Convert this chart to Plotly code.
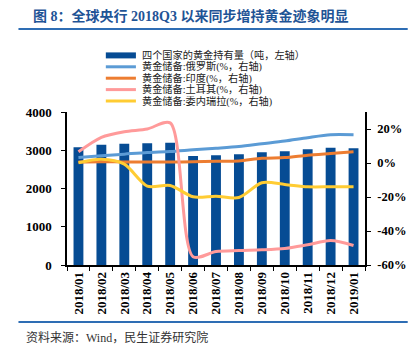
import plotly.graph_objects as go

months = ["2018/01", "2018/02", "2018/03", "2018/04", "2018/05", "2018/06", "2018/07",
          "2018/08", "2018/09", "2018/10", "2018/11", "2018/12", "2019/01"]
holdings = [3077, 3145, 3172, 3180, 3198, 2850, 2867, 2893, 2945, 2971, 3024, 3067, 3055]
russia = [3.2, 4.2, 5.2, 6.2, 6.8, 7.8, 8.7, 9.7, 11.3, 12.9, 14.9, 16.6, 16.6]
india = [0.6, 0.8, 0.6, 0.6, 0.6, 0.7, 1.0, 1.2, 2.8, 3.2, 4.6, 5.6, 6.6]
turkey = [6.6, 15.1, 18.4, 20.0, 23.6, -55.1, -52.1, -51.5, -51.1, -50.3, -48.1, -45.6, -48.5]
venezuela = [0.2, 2.2, -0.7, -13.6, -13.2, -19.9, -19.5, -20.3, -11.6, -12.6, -14.0, -14.0, -14.0]

names = ["四个国家的黄金持有量（吨，左轴）", "黄金储备:俄罗斯(%，右轴)", "黄金储备:印度(%，右轴)",
         "黄金储备:土耳其(%，右轴)", "黄金储备:委内瑞拉(%，右轴)"]
left_ticks = [0, 1000, 2000, 3000, 4000]
right_ticks = [-60, -40, -20, 0, 20]
right_labels = ["-60%", "-40%", "-20%", "0%", "20%"]

serif = "Liberation Serif"
cjk = "Liberation Serif, Noto Sans CJK SC"
bar_color = "#064C94"
colors = ["#5B9BD5", "#ED7D31", "#FF9A9A", "#FFCC33"]

# plot area in pixels (for placing decorations)
L, R, T, B = 67, 374, 112, 265
W, H = R - L, B - T


def px(xp):
    return (xp - L) / W


def py(yp):
    return (B - yp) / H


fig = go.Figure()
fig.add_trace(go.Bar(x=months, y=holdings, name=names[0], marker_color=bar_color,
                     marker_line_width=0))
line_series = [russia, india, turkey, venezuela]
for i, (s, c) in enumerate(zip(line_series, colors)):
    fig.add_trace(go.Scatter(x=months, y=s, name=names[i + 1], yaxis="y2", mode="lines",
                             line=dict(color=c, width=3, shape="spline", smoothing=0.8)))

fig.update_layout(
    width=418, height=353,
    margin=dict(l=L, r=418 - R, t=T, b=353 - B),
    paper_bgcolor="white", plot_bgcolor="white",
    bargap=0.57,
    showlegend=False,
    title=dict(text="图 8：全球央行 2018Q3 以来同步增持黄金迹象明显", xref="container", yref="container",
               x=33 / 418, y=1 - 16 / 353, xanchor="left", yanchor="middle",
               font=dict(family=cjk, size=14, color="#1F5496", weight="bold")),
    xaxis=dict(type="category", tickangle=-90, tickson="boundaries", ticks="outside",
               ticklen=4, tickcolor="black", showline=True, linecolor="black", linewidth=1.5,
               tickfont=dict(family=serif, size=13, color="black", weight="bold"),
               showgrid=False),
    yaxis=dict(range=[0, 4000], tickvals=left_ticks, ticks="outside", ticklen=4,
               tickcolor="black", showline=True, linecolor="black", linewidth=1.5,
               showgrid=False, zeroline=False, ticklabelstandoff=7,
               tickfont=dict(family=serif, size=13, color="black", weight="bold")),
    yaxis2=dict(range=[-60, 30], tickvals=right_ticks, ticktext=right_labels, overlaying="y",
                side="right", ticks="outside", ticklen=4, tickcolor="black", showline=True,
                linecolor="black", linewidth=1.5, showgrid=False, zeroline=False,
                ticklabelstandoff=4,
                tickfont=dict(family=serif, size=12.5, color="black", weight="bold")),
)

# custom compact legend
row_y = [55.4, 66.8, 78.2, 89.6, 101.0]
sym_x0, sym_x1, text_x = 107, 138, 143
fig.add_shape(type="rect", xref="paper", yref="paper", x0=px(sym_x0), x1=px(sym_x1),
              y0=py(row_y[0] + 3), y1=py(row_y[0] - 3), fillcolor=bar_color, line_width=0)
for i, c in enumerate(colors):
    yy = py(row_y[i + 1])
    fig.add_shape(type="line", xref="paper", yref="paper", x0=px(sym_x0), x1=px(sym_x1),
                  y0=yy, y1=yy, line=dict(color=c, width=3))
for i, n in enumerate(names):
    fig.add_annotation(text=n, xref="paper", yref="paper", x=px(text_x), y=py(row_y[i]),
                       xanchor="left", yanchor="middle", showarrow=False, borderpad=0,
                       font=dict(family=cjk, size=10.2, color="#222"))

fig.add_annotation(text="资料来源：Wind，民生证券研究院", xref="paper", yref="paper",
                   x=px(23), y=py(337), xanchor="left", yanchor="middle",
                   showarrow=False, font=dict(family=cjk, size=12, color="#333"))
fig.add_shape(type="line", xref="paper", yref="paper", x0=px(17), x1=px(418),
              y0=py(29), y1=py(29), line=dict(color="#2E6DB4", width=2))
fig.add_shape(type="line", xref="paper", yref="paper", x0=px(17), x1=px(418),
              y0=py(322), y1=py(322), line=dict(color="#2E6DB4", width=2))

fig.write_html("out.html")
